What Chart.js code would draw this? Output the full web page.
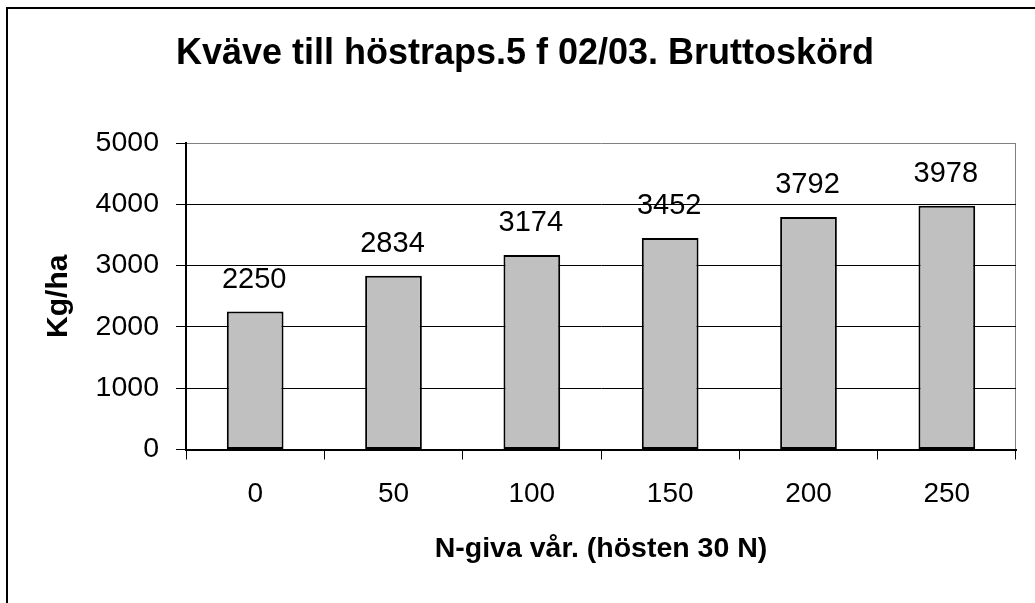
<!DOCTYPE html>
<html>
<head>
<meta charset="utf-8">
<script src="https://cdn.jsdelivr.net/npm/chart.js@4"></script>
<style>
  html, body { margin: 0; padding: 0; background: #fff; }
  #wrap { position: relative; width: 1035px; height: 603px; overflow: hidden; }
  #frame { position: absolute; left: 6px; top: 7px; right: -10px; bottom: -10px;
           border-left: 2px solid #000; border-top: 2px solid #000; pointer-events: none; }
  canvas { position: absolute; left: 0; top: 0; }
</style>
</head>
<body>
<div id="wrap">
  <canvas id="chart" width="1035" height="603"></canvas>
  <div id="frame"></div>
</div>
<script>
// ── Data ─────────────────────────────────────────────────────────────────────
const categories = ['0', '50', '100', '150', '200', '250'];
const yieldKgHa  = [2250, 2834, 3174, 3452, 3792, 3978];
const yTicks     = [0, 1000, 2000, 3000, 4000, 5000];

const titleText  = 'Kväve till höstraps.5 f 02/03. Bruttoskörd';
const xTitleText = 'N-giva vår. (hösten 30 N)';
const yTitleText = 'Kg/ha';

const FONT = "'Liberation Sans', Arial, sans-serif";

// ── Value labels above bars ─────────────────────────────────────────────────
const valueLabels = {
  id: 'valueLabels',
  afterDatasetsDraw(chart) {
    const ctx  = chart.ctx;
    const meta = chart.getDatasetMeta(0);
    ctx.save();
    ctx.font = '29px ' + FONT;
    ctx.fillStyle = '#000';
    ctx.textAlign = 'center';
    ctx.textBaseline = 'alphabetic';
    meta.data.forEach((bar, i) => {
      ctx.fillText(String(yieldKgHa[i]), bar.x - 1, bar.y - 24);
    });
    ctx.restore();
  }
};

new Chart(document.getElementById('chart'), {
  type: 'bar',
  data: {
    labels: categories,
    datasets: [{
      data: yieldKgHa,
      backgroundColor: '#c0c0c0',
      borderColor: '#000',
      borderWidth: 2,
      borderSkipped: false,
      barPercentage: 0.41,
      categoryPercentage: 1
    }]
  },
  options: {
    responsive: false,
    animation: false,
    layout: { padding: { left: 34, right: 19, top: 0, bottom: 0 } },
    plugins: {
      legend: { display: false },
      tooltip: { enabled: false },
      title: {
        display: true,
        text: titleText,
        color: '#000',
        font: { family: FONT, size: 36, weight: 'bold', lineHeight: 1.2 },
        padding: { top: 32.5, bottom: 67.3 }
      }
    },
    scales: {
      x: {
        offset: true,
        afterFit(s) { s.height = 153.5; },
        grid: {
          offset: true,
          drawOnChartArea: true,
          color: c => (c.index === undefined ? '#808080' : 'rgba(0,0,0,0)'),
          tickColor: '#000',
          tickLength: 10,
          lineWidth: 1
        },
        border: { color: '#000', width: 2 },
        ticks: {
          color: '#000',
          padding: 18,
          maxRotation: 0,
          autoSkip: false,
          font: { family: FONT, size: 28 }
        },
        title: {
          display: true,
          text: xTitleText,
          color: '#000',
          font: { family: FONT, size: 28.5, weight: 'bold', lineHeight: 1.2 },
          padding: { top: 0, bottom: 37 }
        }
      },
      y: {
        min: 0,
        max: 5000,
        afterFit(s) { s.width = 152; },
        afterBuildTicks(s) { s.ticks = yTicks.map(v => ({ value: v })); },
        grid: {
          color: c => (c.tick && c.tick.value === 5000 ? '#808080' : '#000'),
          tickColor: '#000',
          tickLength: 10,
          lineWidth: 1
        },
        border: { color: '#000', width: 2 },
        ticks: {
          color: '#000',
          padding: 17,
          callback: v => String(v),
          font: { family: FONT, size: 28.5 }
        },
        title: {
          display: true,
          text: yTitleText,
          color: '#000',
          font: { family: FONT, size: 30, weight: 'bold', lineHeight: 1.2 },
          padding: { top: 7, bottom: 0 }
        }
      }
    }
  },
  plugins: [valueLabels]
});
</script>
</body>
</html>
